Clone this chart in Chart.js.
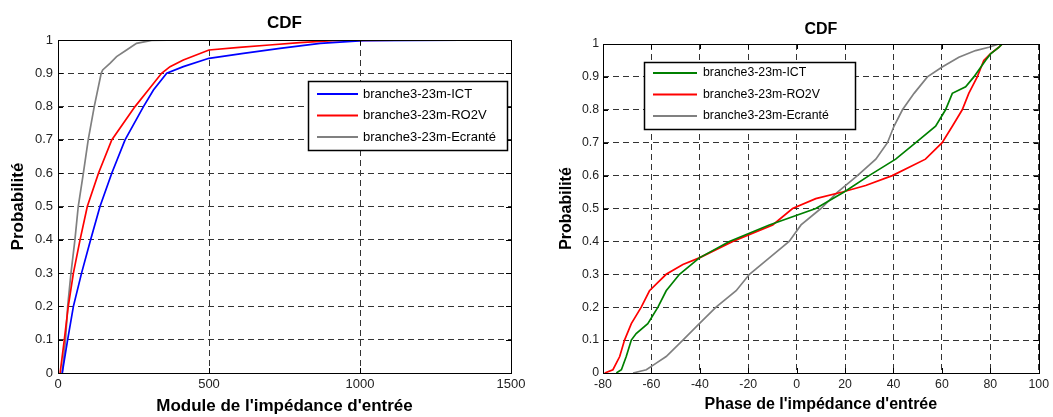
<!DOCTYPE html>
<html>
<head>
<meta charset="utf-8">
<script src="https://cdn.jsdelivr.net/npm/chart.js@4.4.1/dist/chart.umd.min.js"></script>
<style>
  body { margin: 0; background: #fff; }
  #wrap { position: relative; width: 1053px; height: 417px; }
  canvas { position: absolute; top: 0; }
</style>
</head>
<body>
<div id="wrap">
  <canvas id="moduleChart" width="530" height="417" style="left:0"></canvas>
  <canvas id="phaseChart" width="523" height="417" style="left:530px"></canvas>
</div>
<script>
// tick values / labels
const probTicks = [0, 0.1, 0.2, 0.3, 0.4, 0.5, 0.6, 0.7, 0.8, 0.9, 1];
const probLabels = ['0', '0.1', '0.2', '0.3', '0.4', '0.5', '0.6', '0.7', '0.8', '0.9', '1'];
const moduleTicks = [0, 500, 1000, 1500];
const phaseTicks = [-80, -60, -40, -20, 0, 20, 40, 60, 80, 100];

const seriesNames = ['branche3-23m-ICT', 'branche3-23m-RO2V', 'branche3-23m-Ecranté'];

// left chart: module (x) vs probability
const modIctX = [14, 32, 51, 78, 108, 139, 178, 222, 283, 316, 360, 415, 500, 614, 735, 868, 1010, 1497];
const modIctP = [0, 0.1, 0.2, 0.3, 0.4, 0.5, 0.6, 0.7, 0.8, 0.85, 0.9, 0.92, 0.945, 0.96, 0.975, 0.99, 0.998, 1];
const modRo2vX = [7, 21, 34, 51, 73, 97, 134, 178, 255, 299, 343, 371, 415, 500, 600, 700, 800, 910, 1225];
const modRo2vP = [0, 0.1, 0.2, 0.3, 0.4, 0.5, 0.6, 0.7, 0.8, 0.85, 0.9, 0.92, 0.94, 0.97, 0.978, 0.985, 0.992, 0.998, 1];
const modEcrX = [14, 25, 32, 43, 56, 67, 84, 100, 120, 143, 148, 172, 194, 227, 260, 310, 414];
const modEcrP = [0, 0.1, 0.2, 0.3, 0.4, 0.5, 0.6, 0.7, 0.8, 0.9, 0.91, 0.93, 0.95, 0.97, 0.99, 0.999, 1];

// right chart: phase (x) vs probability
const phIctX = [-74.5, -72.4, -70.4, -68.3, -66.3, -61.5, -57.3, -53.9, -48.4, -40.2, -27.8, -11.3, 7.9, 19.6, 29.9, 40.9, 49.2, 57.4, 61.5, 64.3, 69.8, 73.2, 78, 80.1, 83.5, 84.9];
const phIctP = [0, 0.01, 0.05, 0.1, 0.12, 0.15, 0.2, 0.25, 0.3, 0.35, 0.4, 0.45, 0.5, 0.55, 0.6, 0.65, 0.7, 0.75, 0.8, 0.85, 0.87, 0.9, 0.95, 0.97, 0.99, 1];
const phRo2vX = [-79.3, -75.9, -73.1, -71.1, -68.3, -64.2, -60.8, -53.9, -47, -40.2, -26.4, -9.9, -1.7, 7.9, 18.9, 28.5, 39.5, 53.2, 60.1, 64.3, 68.4, 71.1, 74.6, 77.3, 80, 83.5, 84.9];
const phRo2vP = [0, 0.01, 0.05, 0.1, 0.15, 0.2, 0.25, 0.3, 0.33, 0.35, 0.4, 0.45, 0.5, 0.53, 0.55, 0.57, 0.6, 0.65, 0.7, 0.75, 0.8, 0.85, 0.9, 0.95, 0.97, 0.99, 1];
const phEcrX = [-67.6, -62.1, -58, -53.9, -47, -40.2, -33.3, -25, -19.5, -11.3, -3.1, 1.8, 10, 16.9, 25.1, 32.7, 37.5, 40.2, 43.7, 48.5, 54, 60.1, 67, 73.9, 79.4, 83.5];
const phEcrP = [0, 0.01, 0.03, 0.05, 0.1, 0.15, 0.2, 0.25, 0.3, 0.35, 0.4, 0.45, 0.5, 0.55, 0.6, 0.65, 0.7, 0.75, 0.8, 0.85, 0.9, 0.93, 0.96, 0.98, 0.99, 1];

const FONT = '"Liberation Sans", Arial, sans-serif';

function pts(xs, ps) {
  return xs.map((x, i) => ({ x: x, y: ps[i] }));
}

function line(label, color, xs, ps) {
  return {
    label: label,
    data: pts(xs, ps),
    showLine: true,
    borderColor: color,
    backgroundColor: color,
    borderWidth: 1.7,
    pointRadius: 0,
    tension: 0
  };
}

// frame, inward ticks and the legend box inside the axes (matlab look)
const matlabBox = {
  id: 'matlabBox',
  afterDraw(chart, args, opts) {
    const { ctx, chartArea: a, scales } = chart;
    ctx.save();
    ctx.strokeStyle = '#000';
    ctx.lineWidth = 1;
    ctx.beginPath();
    scales.x.ticks.forEach(t => {
      const px = Math.round(scales.x.getPixelForValue(t.value)) + 0.5;
      ctx.moveTo(px, a.bottom); ctx.lineTo(px, a.bottom - 5);
      ctx.moveTo(px, a.top); ctx.lineTo(px, a.top + 5);
    });
    scales.y.ticks.forEach(t => {
      const py = Math.round(scales.y.getPixelForValue(t.value)) + 0.5;
      ctx.moveTo(a.left, py); ctx.lineTo(a.left + 5, py);
      ctx.moveTo(a.right, py); ctx.lineTo(a.right - 5, py);
    });
    ctx.stroke();
    ctx.strokeRect(Math.round(a.left) + 0.5, Math.round(a.top) + 0.5,
      Math.round(a.right - a.left), Math.round(a.bottom - a.top));

    // legend
    const L = opts.legend;
    ctx.fillStyle = '#fff';
    ctx.fillRect(L.x, L.y, L.w, L.h);
    ctx.lineWidth = 1.5;
    ctx.strokeRect(L.x + 0.5, L.y + 0.5, L.w, L.h);
    ctx.font = L.size + 'px ' + FONT;
    ctx.textBaseline = 'middle';
    chart.data.datasets.forEach((ds, i) => {
      const y = L.y + L.row0 + i * L.gap;
      ctx.strokeStyle = ds.borderColor;
      ctx.lineWidth = 2;
      ctx.beginPath();
      ctx.moveTo(L.x + L.l0, y); ctx.lineTo(L.x + L.l1, y);
      ctx.stroke();
      ctx.fillStyle = '#000';
      ctx.fillText(ds.label, L.x + L.tx, y);
    });
    ctx.restore();
  }
};

function makeChart(id, cfg) {
  return new Chart(document.getElementById(id), {
    type: 'scatter',
    data: { datasets: cfg.datasets },
    options: {
      responsive: false,
      animation: false,
      layout: { padding: { left: 0, right: cfg.padRight, top: 0, bottom: 0 } },
      plugins: {
        legend: { display: false },
        tooltip: { enabled: false },
        title: {
          display: true, text: 'CDF', color: '#000', fullSize: false,
          font: { family: FONT, size: cfg.titleSize, weight: 'bold' },
          padding: cfg.titlePad
        },
        matlabBox: { legend: cfg.legend }
      },
      scales: {
        x: {
          type: 'linear', min: cfg.xTicks[0], max: cfg.xTicks[cfg.xTicks.length - 1],
          afterBuildTicks: s => { s.ticks = cfg.xTicks.map(v => ({ value: v })); },
          afterFit: s => { s.height = cfg.xAxisH; },
          ticks: {
            color: '#222', font: { family: FONT, size: cfg.tickSize }, padding: 4, maxRotation: 0,
            callback: v => String(v)
          },
          grid: { color: '#333', lineWidth: 1, drawTicks: false },
          border: { display: false, dash: [6, 4] },
          title: {
            display: true, text: cfg.xTitle, color: '#000',
            font: { family: FONT, size: cfg.titleSize, weight: 'bold' },
            padding: { top: 0, bottom: cfg.xTitleBottom }
          }
        },
        y: {
          min: 0, max: 1,
          afterBuildTicks: s => { s.ticks = probTicks.map(v => ({ value: v })); },
          afterFit: s => { s.width = cfg.yAxisW; },
          ticks: {
            color: '#222', font: { family: FONT, size: cfg.tickSize }, padding: cfg.yTickPad,
            callback: (v) => probLabels[probTicks.indexOf(Math.round(v * 10) / 10)]
          },
          grid: { color: '#333', lineWidth: 1, drawTicks: false },
          border: { display: false, dash: [6, 4] },
          title: {
            display: true, text: 'Probabilité', color: '#000',
            font: { family: FONT, size: cfg.titleSize, weight: 'bold' },
            padding: { top: cfg.yTitleTop, bottom: 0 }
          }
        }
      }
    },
    plugins: [matlabBox]
  });
}

makeChart('moduleChart', {
  datasets: [
    line(seriesNames[0], '#0000ff', modIctX, modIctP),
    line(seriesNames[1], '#ff0000', modRo2vX, modRo2vP),
    line(seriesNames[2], '#808080', modEcrX, modEcrP)
  ],
  xTicks: moduleTicks,
  xTitle: "Module de l'impédance d'entrée",
  padRight: 19,
  titleSize: 17,
  tickSize: 13,
  titlePad: { top: 12.8, bottom: 6.8 },
  xAxisH: 44,
  yAxisW: 58,
  yTickPad: 5,
  xTitleBottom: 0,
  yTitleTop: 7.8,
  legend: { x: 308, y: 81, w: 199, h: 69, row0: 13, gap: 21.5, l0: 9, l1: 50, tx: 55, size: 13 }
});

makeChart('phaseChart', {
  datasets: [
    line(seriesNames[0], '#008000', phIctX, phIctP),
    line(seriesNames[1], '#ff0000', phRo2vX, phRo2vP),
    line(seriesNames[2], '#808080', phEcrX, phEcrP)
  ],
  xTicks: phaseTicks,
  xTitle: "Phase de l'impédance d'entrée",
  padRight: 13,
  titleSize: 16,
  tickSize: 12.3,
  titlePad: { top: 20.4, bottom: 4.4 },
  xAxisH: 44,
  yAxisW: 73,
  yTickPad: 4,
  xTitleBottom: 2.4,
  yTitleTop: 27.4,
  legend: { x: 114, y: 62, w: 211, h: 67, row0: 11, gap: 21.5, l0: 9, l1: 53, tx: 59, size: 12.3 }
});
</script>
</body>
</html>
